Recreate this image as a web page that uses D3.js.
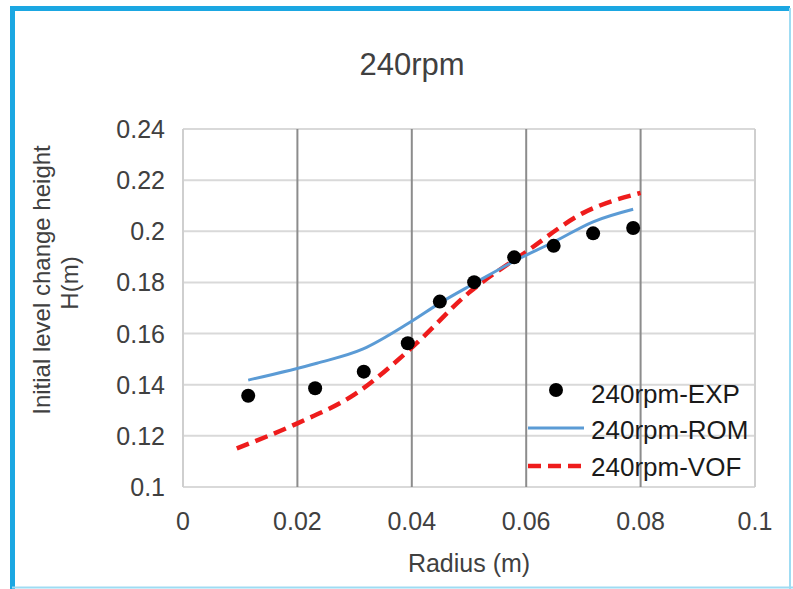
<!DOCTYPE html>
<html>
<head>
<meta charset="utf-8">
<script src="https://cdn.jsdelivr.net/npm/d3@7"></script>
<style>
  body { margin: 0; background: #fff; }
  svg { display: block; font-family: "Liberation Sans", Arial, sans-serif; }
</style>
</head>
<body>
<svg id="chart" width="793" height="589"></svg>
<script>
// data
const expRadius = [0.0114, 0.0231, 0.0316, 0.0393, 0.0449, 0.0509, 0.0579, 0.0648, 0.0717, 0.0787];
const expHeight = [0.1357, 0.1386, 0.1451, 0.1562, 0.1725, 0.1801, 0.1898, 0.1943, 0.1992, 0.2013];

const romRadius = [0.0114, 0.0234, 0.0315, 0.0394, 0.0451, 0.0509, 0.0577, 0.0649, 0.0717, 0.0787];
const romHeight = [0.1418, 0.1484, 0.1540, 0.1640, 0.1722, 0.1796, 0.1881, 0.1959, 0.2037, 0.2086];

const vofRadius = [0.0094, 0.02, 0.03, 0.04, 0.05, 0.06, 0.07, 0.08];
const vofHeight = [0.1151, 0.1249, 0.1362, 0.1545, 0.1760, 0.1920, 0.2072, 0.2150];

const xTicks = [0, 0.02, 0.04, 0.06, 0.08, 0.1];
const xTickLabels = ["0", "0.02", "0.04", "0.06", "0.08", "0.1"];
const yTicks = [0.1, 0.12, 0.14, 0.16, 0.18, 0.2, 0.22, 0.24];
const yTickLabels = ["0.1", "0.12", "0.14", "0.16", "0.18", "0.2", "0.22", "0.24"];

const legendLabels = ["240rpm-EXP", "240rpm-ROM", "240rpm-VOF"];

const svg = d3.select("#chart");
const W = 793, H = 589;

// outer frame
svg.append("rect").attr("width", W).attr("height", H).attr("fill", "#fff");
svg.append("path")
  .attr("d", "M12.5,591 V8.5 H790")
  .attr("fill", "none").attr("stroke", "#1ba7e2").attr("stroke-width", 5);
svg.append("line").attr("x1", 790).attr("x2", 790).attr("y1", 8).attr("y2", 589)
  .attr("stroke", "#9fdcf3").attr("stroke-width", 2);
svg.append("line").attr("x1", 12).attr("x2", 793).attr("y1", 587.5).attr("y2", 587.5)
  .attr("stroke", "#9fdcf3").attr("stroke-width", 2);

const plotL = 183, plotR = 755, plotT = 129, plotB = 487;
const x = d3.scaleLinear().domain([0, 0.1]).range([plotL, plotR]);
const y = d3.scaleLinear().domain([0.1, 0.24]).range([plotB, plotT]);

// horizontal grid
svg.append("g").selectAll("line").data(yTicks).enter().append("line")
  .attr("x1", plotL).attr("x2", plotR)
  .attr("y1", d => y(d)).attr("y2", d => y(d))
  .attr("stroke", "#d9d9d9").attr("stroke-width", 2);

// vertical grid (darker inner lines, light frame edges)
svg.append("g").selectAll("line").data(xTicks).enter().append("line")
  .attr("x1", d => x(d)).attr("x2", d => x(d))
  .attr("y1", plotT).attr("y2", plotB)
  .attr("stroke", (d, i) => (i === 0 || i === xTicks.length - 1) ? "#cfcfcf" : "#8c8c8c")
  .attr("stroke-width", 2);

// tick labels
svg.append("g").selectAll("text").data(yTicks).enter().append("text")
  .attr("x", 165).attr("y", d => y(d) + 9)
  .attr("text-anchor", "end").attr("font-size", 25).attr("fill", "#404040")
  .text((d, i) => yTickLabels[i]);

svg.append("g").selectAll("text").data(xTicks).enter().append("text")
  .attr("x", d => x(d)).attr("y", 530)
  .attr("text-anchor", "middle").attr("font-size", 25).attr("fill", "#404040")
  .text((d, i) => xTickLabels[i]);

// titles
svg.append("text").attr("x", 412).attr("y", 75)
  .attr("text-anchor", "middle").attr("font-size", 31).attr("fill", "#404040")
  .text("240rpm");

svg.append("text").attr("x", 469).attr("y", 572)
  .attr("text-anchor", "middle").attr("font-size", 25).attr("fill", "#404040")
  .text("Radius (m)");

const yTitle = svg.append("text")
  .attr("transform", "rotate(-90)")
  .attr("font-size", 24).attr("fill", "#404040").attr("text-anchor", "middle");
yTitle.append("tspan").attr("x", -280).attr("y", 50).text("Initial level change height");
yTitle.append("tspan").attr("x", -283).attr("y", 78).text("H(m)");

// series
const line = d3.line().x(d => x(d[0])).y(d => y(d[1])).curve(d3.curveMonotoneX);

svg.append("path")
  .datum(vofRadius.map((r, i) => [r, vofHeight[i]]))
  .attr("d", line)
  .attr("fill", "none").attr("stroke", "#ee1c1c").attr("stroke-width", 4.5)
  .attr("stroke-dasharray", "13,7");

svg.append("path")
  .datum(romRadius.map((r, i) => [r, romHeight[i]]))
  .attr("d", line)
  .attr("fill", "none").attr("stroke", "#5b9bd5").attr("stroke-width", 3);

svg.append("g").selectAll("circle")
  .data(expRadius.map((r, i) => [r, expHeight[i]]))
  .enter().append("circle")
  .attr("cx", d => x(d[0])).attr("cy", d => y(d[1])).attr("r", 7)
  .attr("fill", "#000");

// legend
const lg = svg.append("g");
const rowY = [392, 428, 465];
lg.append("circle").attr("cx", 556).attr("cy", rowY[0] - 2).attr("r", 7).attr("fill", "#000");
lg.append("line").attr("x1", 528).attr("x2", 584).attr("y1", rowY[1]).attr("y2", rowY[1])
  .attr("stroke", "#5b9bd5").attr("stroke-width", 3);
lg.append("line").attr("x1", 528).attr("x2", 584).attr("y1", rowY[2] + 1).attr("y2", rowY[2] + 1)
  .attr("stroke", "#ee1c1c").attr("stroke-width", 4.5).attr("stroke-dasharray", "13,7");
lg.selectAll("text").data(legendLabels).enter().append("text")
  .attr("x", 591).attr("y", (d, i) => rowY[i] + 11)
  .attr("font-size", 26).attr("fill", "#1a1a1a")
  .text(d => d);
</script>
</body>
</html>
